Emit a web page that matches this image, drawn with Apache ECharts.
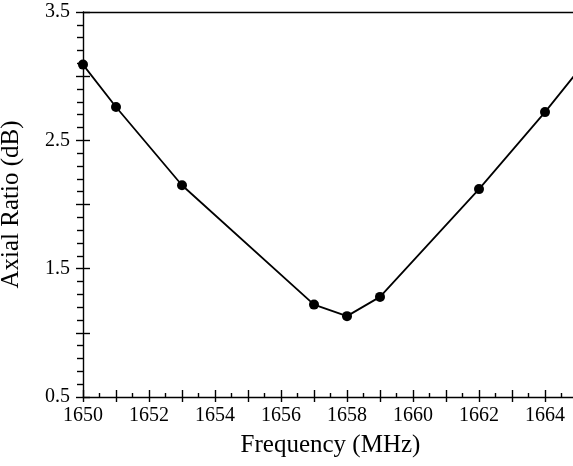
<!DOCTYPE html>
<html>
<head>
<meta charset="utf-8">
<script src="https://cdn.jsdelivr.net/npm/echarts@6/dist/echarts.min.js"></script>
<style>
html,body{margin:0;padding:0;background:#fff;}
#c{width:573px;height:466px;}
</style>
</head>
<body>
<div id="c"></div>
<script>
const frequency = [1650, 1651, 1653, 1657, 1658, 1659, 1662, 1664, 1665];
const axialRatio = [3.09, 2.76, 2.15, 1.22, 1.13, 1.28, 2.12, 2.72, 3.04];
const xLabels = [1650, 1652, 1654, 1656, 1658, 1660, 1662, 1664];
const yLabels = [0.5, 1.5, 2.5, 3.5];

const FONT = '"Liberation Serif", "Times New Roman", serif';
const chart = echarts.init(document.getElementById('c'), null, {renderer: 'canvas'});
const grid = {left: 83, top: 12, width: 495, height: 385, containLabel: false, outerBoundsMode: 'none'};
const lineStyle = {color: '#000', width: 1.4};

chart.setOption({
  animation: false,
  grid: grid,
  xAxis: [
    {
      type: 'value', position: 'bottom', min: 1650, max: 1665, interval: 1,
      axisLine: {show: true, lineStyle: lineStyle},
      axisTick: {show: true, inside: false, length: 5, lineStyle: lineStyle},
      minorTick: {show: false},
      splitLine: {show: false},
      axisLabel: {
        show: true, margin: 9, color: '#000', fontFamily: FONT, fontSize: 20,
        formatter: v => xLabels.indexOf(Math.round(v)) >= 0 ? String(Math.round(v)) : ''
      },
      name: 'Frequency (MHz)', nameLocation: 'middle', nameGap: 36,
      nameTextStyle: {color: '#000', fontFamily: FONT, fontSize: 25}
    },
    {
      type: 'value', position: 'bottom', offset: 0, min: 1650, max: 1665, interval: 1,
      axisLine: {show: false},
      axisTick: {show: true, inside: true, length: 7, lineStyle: lineStyle},
      minorTick: {show: true, splitNumber: 2, length: 4, lineStyle: lineStyle},
      splitLine: {show: false},
      axisLabel: {show: false}
    },
    {
      type: 'value', position: 'top', min: 1650, max: 1665,
      axisLine: {show: true, lineStyle: lineStyle},
      axisTick: {show: false}, axisLabel: {show: false}, splitLine: {show: false}
    }
  ],
  yAxis: [
    {
      type: 'value', position: 'left', min: 0.5, max: 3.5, interval: 0.5,
      axisLine: {show: true, lineStyle: lineStyle},
      axisTick: {show: true, inside: false, length: 7, lineStyle: lineStyle},
      minorTick: {show: true, splitNumber: 5, length: 6, lineStyle: {color: '#000', width: 1.4}},
      splitLine: {show: false},
      axisLabel: {
        show: true, margin: 13, color: '#000', fontFamily: FONT, fontSize: 20,
        formatter: v => yLabels.some(t => Math.abs(t - v) < 1e-6) ? String(v) : ''
      },
      name: 'Axial Ratio (dB)', nameLocation: 'middle', nameGap: 59,
      nameTextStyle: {color: '#000', fontFamily: FONT, fontSize: 25}
    },
    {
      type: 'value', position: 'left', offset: 0, min: 0.5, max: 3.5, interval: 0.5,
      axisLine: {show: false},
      axisTick: {show: true, inside: true, length: 7, lineStyle: lineStyle},
      axisLabel: {show: false}, splitLine: {show: false}
    }
  ],
  series: [{
    type: 'line',
    xAxisIndex: 0, yAxisIndex: 0,
    data: frequency.map((f, i) => [f, axialRatio[i]]),
    symbol: 'circle', symbolSize: 10,
    itemStyle: {color: '#000'},
    lineStyle: {color: '#000', width: 1.8},
    clip: false
  }]
});
</script>
</body>
</html>
